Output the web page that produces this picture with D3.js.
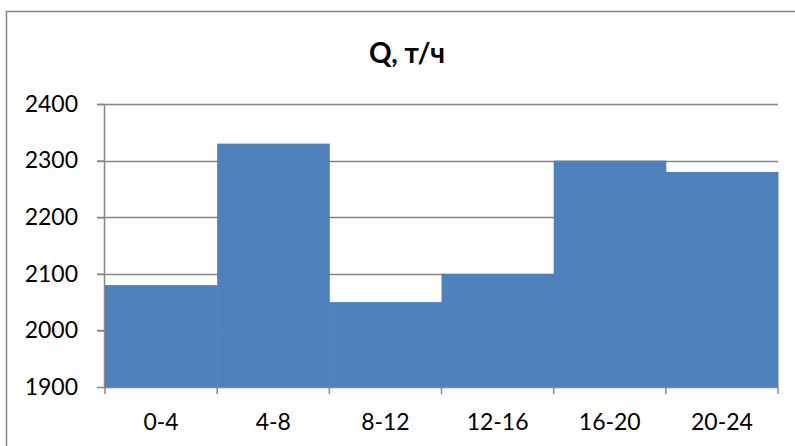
<!DOCTYPE html>
<html><head><meta charset="utf-8">
<script src="https://cdn.jsdelivr.net/npm/d3@7"></script>
<style>body{margin:0;background:#fff}svg{display:block}</style>
</head><body>
<svg id="c" width="795" height="446"></svg>
<script>
const categories = ["0-4","4-8","8-12","12-16","16-20","20-24"];
const values = [2080, 2330, 2050, 2100, 2300, 2280];
const yTicks = [1900, 2000, 2100, 2200, 2300, 2400];
const title = "Q, т/ч";

const svg = d3.select("#c");
const font = "Lato, 'Open Sans', sans-serif";
const m = {left:105, right:778, top:104, bottom:387};

svg.append("rect").attr("x",6.5).attr("y",11.5).attr("width",820).attr("height",460)
  .attr("fill","#fff").attr("stroke","#868686").attr("stroke-width",1.5);

const x = d3.scaleBand().domain(categories).range([m.left, m.right]).padding(0);
const y = d3.scaleLinear().domain([1900, 2400]).range([m.bottom, m.top]);

svg.append("g").selectAll("line").data(yTicks.slice(1)).join("line")
  .attr("x1", m.left - 8).attr("x2", m.right)
  .attr("y1", d => Math.round(y(d)) + 0.5).attr("y2", d => Math.round(y(d)) + 0.5)
  .attr("stroke","#868686").attr("stroke-width",1.5);

svg.append("g").selectAll("rect").data(values).join("rect")
  .attr("x", (d,i) => x(categories[i])).attr("width", x.bandwidth() + 0.5)
  .attr("y", d => y(d)).attr("height", d => y(1900) - y(d))
  .attr("fill","#4F81BD");

const ya = svg.append("g").attr("transform", `translate(${m.left},0)`)
  .call(d3.axisLeft(y).tickValues(yTicks).tickSize(8).tickPadding(19).tickFormat(d3.format("d")));
ya.select(".domain").attr("stroke","#868686").attr("stroke-width",1.5).attr("d", `M-0.5,${m.top}V${m.bottom}`);
ya.selectAll(".tick line").attr("stroke","#868686").attr("stroke-width",1.5);
ya.selectAll("text").style("font-family",font).style("font-size","23px").attr("fill","#000");

const xa = svg.append("g").attr("transform", `translate(0,${m.bottom})`)
  .call(d3.axisBottom(x).tickSize(0).tickPadding(27));
xa.select(".domain").attr("stroke","#868686").attr("stroke-width",1.5).attr("d", `M${m.left},0.5H${m.right}`);
xa.selectAll("text").style("font-family",font).style("font-size","23px").attr("fill","#000");
xa.selectAll(".xt").data(d3.range(categories.length + 1)).join("line").attr("class","xt")
  .attr("x1", i => m.left + i * x.step()).attr("x2", i => m.left + i * x.step())
  .attr("y1", 0).attr("y2", 7).attr("stroke","#868686").attr("stroke-width",1.5);

svg.append("text").attr("x", 407).attr("y", 63).attr("text-anchor","middle")
  .style("font-family",font).style("font-weight","bold").style("font-size","28px").attr("fill","#000")
  .text(title);
</script>
</body></html>
